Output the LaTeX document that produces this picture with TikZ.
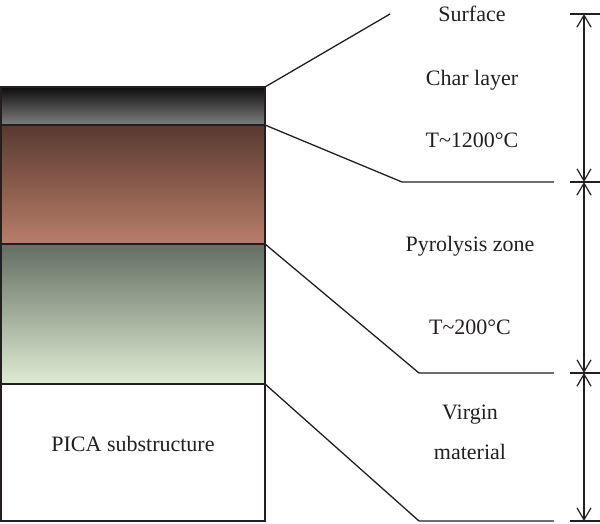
\documentclass[tikz,border=0pt]{standalone}
\usepackage{fontspec}
\setmainfont{Liberation Serif}
\usetikzlibrary{arrows.meta}
\definecolor{inkc}{RGB}{35,31,32}
\definecolor{brtop}{RGB}{88,58,48}
\definecolor{brbot}{RGB}{184,126,106}
\definecolor{grtop}{RGB}{100,110,98}
\definecolor{grbot}{RGB}{222,236,212}
\tikzset{
  layer/.style={draw=inkc, line width=1.3pt, minimum width=264pt, inner sep=0pt, outer sep=0pt, anchor=north west},
  lead/.style={draw=inkc, line width=1.3pt},
  dim/.style={draw=inkc, line width=1.2pt, {Straight Barb[length=12pt,width=14pt]}-{Straight Barb[length=12pt,width=14pt]}},
  txt/.style={font=\fontsize{22}{26}\selectfont, text=inkc}
}
\begin{document}
\begin{tikzpicture}[x=1pt,y=1pt]
\useasboundingbox (0,0) rectangle (600,523);
% layers of the heat shield
\node[layer, minimum height=38pt, top color=black!95, bottom color=black!50] (char) at (1,436) {};
\node[layer, minimum height=119pt, top color=brtop, bottom color=brbot] (pyro) at (1,398) {};
\node[layer, minimum height=140pt, top color=grtop, bottom color=grbot] (virgin) at (1,279) {};
\node[layer, minimum height=137pt, fill=white] (sub) at (1,139) {};
\node[txt] (pica) at (133,79) {PICA substructure};
% leader lines
\coordinate (surf) at (390,509);
\coordinate (k1) at (402,341);
\coordinate (e1) at (554,341);
\coordinate (k2) at (419,150);
\coordinate (e2) at (554,150);
\coordinate (k3) at (419,2);
\coordinate (e3) at (554,2);
\draw[lead] (char.north east) -- (surf);
\draw[lead] (char.south east) -- (k1) -- (e1);
\draw[lead] (pyro.south east) -- (k2) -- (e2);
\draw[lead] (virgin.south east) -- (k3) -- (e3);
% dimension marks
\coordinate (t0) at (584,509);
\coordinate (t1) at (584,341);
\coordinate (t2) at (584,150);
\coordinate (t3) at (584,2);
\foreach \t in {t0,t1,t2,t3}
  \draw[lead, line width=1.2pt] ([xshift=-14pt]\t) -- ([xshift=16pt]\t);
\draw[dim] (t0) -- (t1);
\draw[dim] (t1) -- (t2);
\draw[dim] (t2) -- (t3);
% labels
\node[txt] (surface) at (472,509) {Surface};
\node[txt] (charlab) at (472,443) {Char layer};
\node[txt] (hot) at (472,383) {T\textasciitilde1200°C};
\node[txt] (pyrolab) at (470,277) {Pyrolysis zone};
\node[txt] (warm) at (470,196) {T\textasciitilde200°C};
\node[txt, align=center] (virginlab) at (470,91) {Virgin\\[14pt]material};
\end{tikzpicture}
\end{document}
